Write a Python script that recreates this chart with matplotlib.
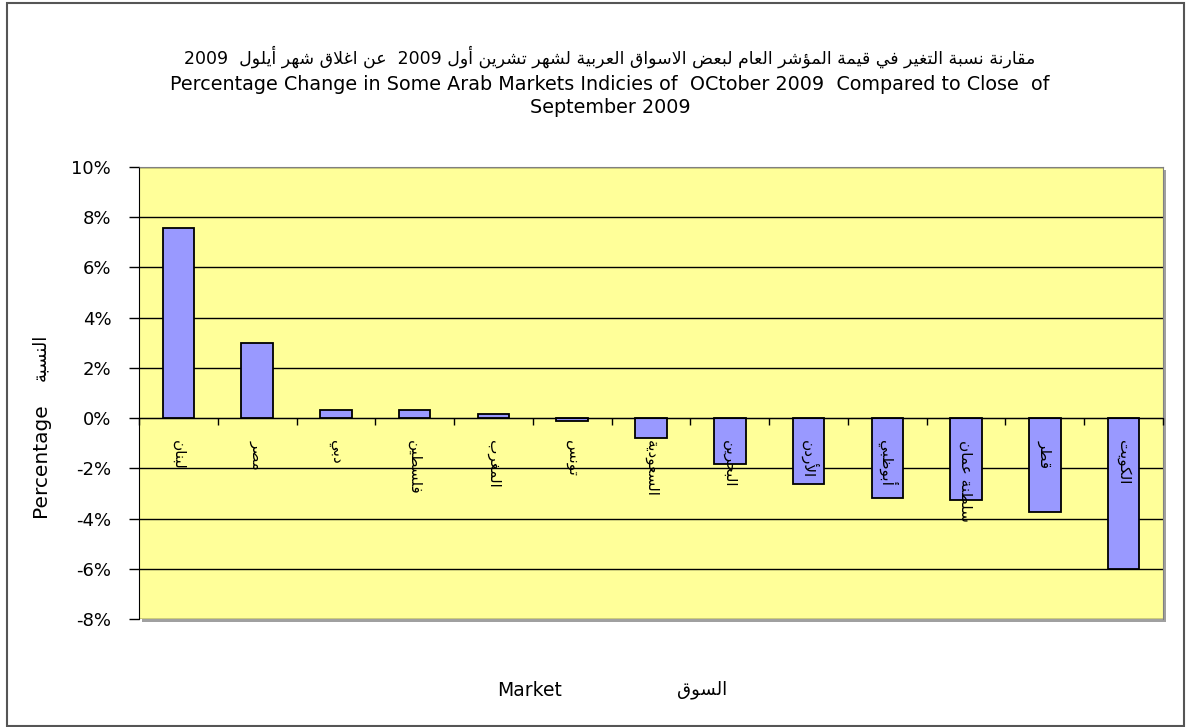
import numpy as np
import matplotlib
matplotlib.use('Agg')
from matplotlib import pyplot as plt
from matplotlib.patches import Rectangle


# data
markets = ['لبنان', 'مصر', 'دبي', 'فلسطين', 'المغرب', 'تونس', 'السعودية',
           'البحرين', 'الأردن', 'أبوظبي', 'سلطنة عمان', 'قطر', 'الكويت']
values = [7.56, 2.99, 0.31, 0.31, 0.16, -0.10, -0.79,
          -1.83, -2.63, -3.19, -3.27, -3.75, -6.0]
yticks = [-8, -6, -4, -2, 0, 2, 4, 6, 8, 10]

title_ar = 'مقارنة نسبة التغير في قيمة المؤشر العام لبعض الاسواق العربية لشهر تشرين أول 2009  عن اغلاق شهر أيلول  2009'
title_en = 'Percentage Change in Some Arab Markets Indicies of  OCtober 2009  Compared to Close  of\nSeptember 2009'
ylabel_en = 'Percentage'
ylabel_ar = 'النسبة'
xlabel_en = 'Market'
xlabel_ar = 'السوق'


# kleine arabische formung (matplotlib kann das nicht selbst)
letters = [chr(c) for c in range(0x0621, 0x063B)] + [chr(c) for c in range(0x0641, 0x064B)]
two_forms = '\u0622\u0623\u0624\u0625\u0627\u0629\u062F\u0630\u0631\u0632\u0648\u0649'
forms = {}
pos = 0xFE80
for ch in letters:
    n = 1 if ch == '\u0621' else (2 if ch in two_forms else 4)
    forms[ch] = [chr(pos + k) for k in range(n)]
    pos += n
lam_alef = {'\u0622': 0xFEF5, '\u0623': 0xFEF7, '\u0625': 0xFEF9, '\u0627': 0xFEFB}


def joins_left(ch):
    return ch in forms and len(forms[ch]) == 4


def joins_right(ch):
    return ch in forms and len(forms[ch]) >= 2


def ar(s):
    out = []
    i = 0
    while i < len(s):
        ch = s[i]
        prev = s[i - 1] if i > 0 else ''
        nxt = s[i + 1] if i + 1 < len(s) else ''
        if ch not in forms:
            out.append(ch)
            i += 1
            continue
        p = joins_left(prev) and joins_right(ch)
        if ch == '\u0644' and nxt in lam_alef:
            out.append(chr(lam_alef[nxt] + (1 if p else 0)))
            i += 2
            continue
        n = joins_left(ch) and joins_right(nxt)
        f = forms[ch]
        if p and n:
            out.append(f[3])
        elif p:
            out.append(f[1])
        elif n:
            out.append(f[2])
        else:
            out.append(f[0])
        i += 1
    vis = ''.join(out)[::-1]
    # ziffern wieder umdrehen
    res = ''
    run = ''
    for ch in vis:
        if ch.isascii() and ch.isalnum():
            run += ch
        else:
            res += run[::-1] + ch
            run = ''
    return res + run[::-1]


plt.rcParams['font.family'] = ['DejaVu Sans']

fig = plt.figure(figsize=(11.91, 7.27), dpi=100)
W, H = 1191.0, 727.0

# rahmen um das ganze diagramm
fig.patches.append(Rectangle((7 / W, 1 / H), 1177 / W, 723 / H, transform=fig.transFigure,
                             fill=False, edgecolor='#555555', lw=1.5))

left, right, top, bottom = 139 / W, 1163 / W, 167 / H, 619 / H
ax = fig.add_axes([left, 1 - bottom, right - left, bottom - top])
ax.set_zorder(2)
ax.set_axisbelow(False)  # beschriftung ueber den balken
# schatten der zeichenflaeche
fig.patches.append(Rectangle((left + 3 / W, 1 - bottom - 3 / H), right - left, bottom - top,
                             transform=fig.transFigure, facecolor='#a0a0a0', edgecolor='none',
                             zorder=-1))

ax.set_facecolor('#FFFF99')
x = np.arange(len(markets))
ax.bar(x, values, width=0.4, color='#9999FF', edgecolor='black', linewidth=1.3, zorder=2)

ax.set_xlim(-0.5, len(markets) - 0.5)
ax.set_ylim(-8, 10)
ax.set_yticks(yticks)
ax.set_yticklabels([str(v) + '%' for v in yticks], fontsize=13)
ax.tick_params(axis='y', length=7, width=1, pad=13)
for v in yticks:
    ax.axhline(v, color='black', lw=1, zorder=1)

ax.spines['bottom'].set_position(('data', 0))
ax.spines['bottom'].set_zorder(4)
ax.spines['top'].set_color('#808080')
ax.spines['right'].set_color('#808080')

ax.set_xticks(np.arange(-0.5, len(markets), 1))
ax.set_xticklabels([])
ax.tick_params(axis='x', which='major', direction='out', length=5, width=1)
ax.set_xticks(x, minor=True)
ax.set_xticklabels([ar(m) for m in markets], minor=True, rotation=270, fontsize=11, va='top')
ax.tick_params(axis='x', which='minor', length=0, pad=16)

fig.text(610 / W, 1 - 57 / H, ar(title_ar), ha='center', va='center', fontsize=12.5)
fig.text(610 / W, 1 - 96 / H, title_en, ha='center', va='center', fontsize=13.8,
         linespacing=1.3)

fig.text(40 / W, 1 - 460 / H, ylabel_en, rotation=90, ha='center', va='center', fontsize=14.5)
fig.text(40 / W, 1 - 357 / H, ar(ylabel_ar), rotation=90, ha='center', va='center', fontsize=13)
fig.text(530 / W, 1 - 690 / H, xlabel_en, ha='center', va='center', fontsize=13.5)
fig.text(702 / W, 1 - 690 / H, ar(xlabel_ar), ha='center', va='center', fontsize=13)

fig.savefig('out.png', dpi=100, facecolor='white')
